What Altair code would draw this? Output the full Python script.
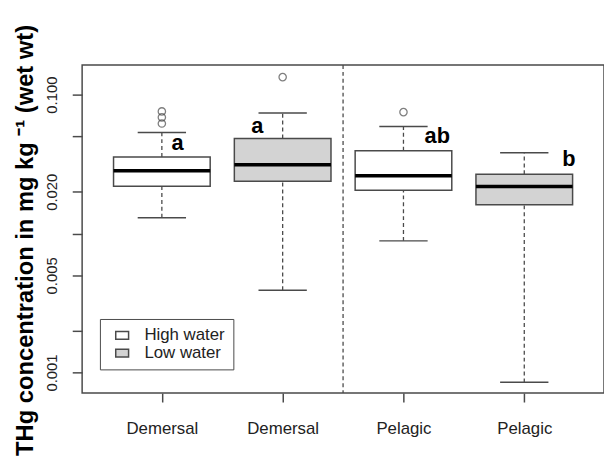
import json
import altair as alt
import pandas as pd

# ---- data ----
groups = ["Demersal", "Demersal", "Pelagic", "Pelagic"]
water = ["High water", "Low water", "High water", "Low water"]
positions = [1, 2, 3, 4]
lower_whisker = [0.0130, 0.00391, 0.00886, 0.00085]
q1 = [0.0219, 0.0238, 0.0205, 0.0161]
median = [0.0283, 0.0313, 0.0261, 0.0218]
q3 = [0.0356, 0.0484, 0.0395, 0.0267]
upper_whisker = [0.0534, 0.0736, 0.0589, 0.0382]

outlier_pos = [1, 1, 1, 2, 3]
outlier_vals = [0.0757, 0.0686, 0.0619, 0.1336, 0.0748]

letters = ["a", "a", "ab", "b"]
letter_x = [1.13, 1.79, 3.28, 4.37]
letter_y = [0.0400, 0.0528, 0.0448, 0.0308]

separator_x = [2.5]

y_ticks = [0.1, 0.05, 0.02, 0.01, 0.005, 0.002, 0.001]
y_tick_labels = ["0.100", "", "0.020", "", "0.005", "", "0.001"]

legend_order = ["High water", "Low water"]
legend_fill = ["#ffffff", "#d3d3d3"]

# ---- tables ----
box_half = 0.4
cap_half = 0.2
boxes = pd.DataFrame({
    "group": groups, "water": water, "pos": positions,
    "lo": lower_whisker, "q1": q1, "med": median, "q3": q3, "hi": upper_whisker,
})
boxes["left"] = boxes["pos"] - box_half
boxes["right"] = boxes["pos"] + box_half
boxes["capl"] = boxes["pos"] - cap_half
boxes["capr"] = boxes["pos"] + cap_half

outliers = pd.DataFrame({"pos": outlier_pos, "val": outlier_vals})
labels_df = pd.DataFrame({"x": letter_x, "y": letter_y, "t": letters})
sep_df = pd.DataFrame({"x": separator_x})

FONT = "Liberation Sans"
GRAY = "#4a4a4a"

xscale = alt.Scale(domain=[0.34, 4.66], nice=False, zero=False)
x_label_expr = json.dumps([""] + groups) + "[datum.value]"
xaxis = alt.Axis(values=positions, labelExpr=x_label_expr, title=None,
                 tickSize=9, labelPadding=19, labelFontSize=17,
                 labelFont=FONT, labelColor="#222")

yscale = alt.Scale(type="log", domain=[0.000711, 0.1634], nice=False, zero=False)
expr = "''"
for v, lab in zip(reversed(y_ticks), reversed(y_tick_labels)):
    expr = f"datum.value == {v} ? '{lab}' : ({expr})"
yaxis = alt.Axis(values=y_ticks, labelExpr=expr, tickSize=10,
                 labelAngle=270, labelAlign="center", labelBaseline="bottom",
                 labelPadding=13, labelFontSize=15, labelFont=FONT, labelColor="#222",
                 title="THg concentration in mg kg \u207b\u00b9 (wet wt)",
                 titleFont=FONT, titleFontSize=24, titleFontWeight="bold",
                 titleColor="#000", titleAngle=270, titleAlign="center",
                 titleBaseline="alphabetic", titleX=-50, titleY=177)


def X(f):
    return alt.X(f"{f}:Q", scale=xscale, axis=xaxis)


def Y(f):
    return alt.Y(f"{f}:Q", scale=yscale, axis=yaxis)


base = alt.Chart(boxes)

whisk_up = base.mark_rule(color=GRAY, strokeWidth=1.3, strokeDash=[4, 3]).encode(
    x=X("pos"), y=Y("q3"), y2="hi")
whisk_lo = base.mark_rule(color=GRAY, strokeWidth=1.3, strokeDash=[4, 3]).encode(
    x=X("pos"), y=Y("lo"), y2="q1")
cap_up = base.mark_rule(color=GRAY, strokeWidth=1.5).encode(
    x=X("capl"), x2="capr", y=Y("hi"))
cap_lo = base.mark_rule(color=GRAY, strokeWidth=1.5).encode(
    x=X("capl"), x2="capr", y=Y("lo"))
rects = base.mark_rect(stroke=GRAY, strokeWidth=1.5).encode(
    x=X("left"), x2="right", y=Y("q1"), y2="q3",
    fill=alt.Fill("water:N",
                  scale=alt.Scale(domain=legend_order, range=legend_fill),
                  legend=alt.Legend(title=None, orient="none", legendX=18, legendY=257)))
med = base.mark_rule(color="#000", strokeWidth=3.5).encode(
    x=X("left"), x2="right", y=Y("med"))
pts = alt.Chart(outliers).mark_point(shape="circle", filled=False, size=55,
                                     color=GRAY, strokeWidth=1.3).encode(
    x=X("pos"), y=Y("val"))
txt = alt.Chart(labels_df).mark_text(fontSize=22, fontWeight="bold", font=FONT,
                                     baseline="alphabetic", align="center",
                                     color="#000").encode(
    x=X("x"), y=Y("y"), text="t:N")
sep = alt.Chart(sep_df).mark_rule(color=GRAY, strokeWidth=1.3, strokeDash=[4, 3]).encode(
    x=X("x"))

chart = alt.layer(sep, whisk_up, whisk_lo, cap_up, cap_lo, rects, med, pts, txt).properties(
    width=528, height=332, autosize="none",
    padding={"left": 75, "top": 55, "right": 0, "bottom": 62},
).configure_view(stroke=GRAY, strokeWidth=1.5).configure_axis(
    domain=False, grid=False, tickColor=GRAY, tickWidth=1.5
).configure_legend(
    symbolType="M-1,-0.6H1V0.6H-1Z", symbolSize=169, symbolStrokeColor=GRAY,
    symbolStrokeWidth=1.5, labelFontSize=17, labelFont=FONT, labelColor="#222",
    strokeColor=GRAY, fillColor="#ffffff", padding=8, rowPadding=0,
    symbolOffset=6, labelOffset=14,
)

chart.save("out.html", embed_options={"renderer": "svg", "actions": False})
